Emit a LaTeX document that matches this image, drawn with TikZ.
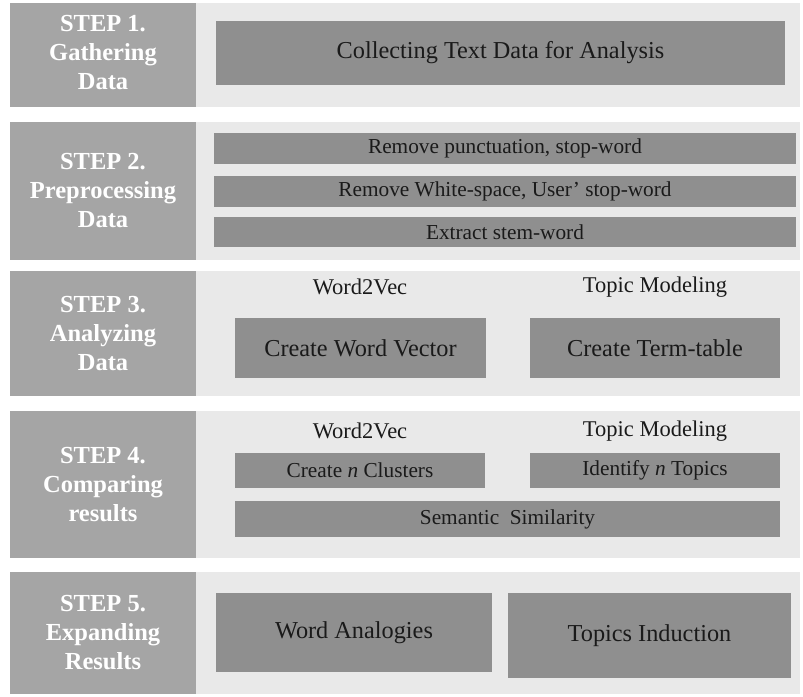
\documentclass[tikz,border=0pt]{standalone}
\usepackage{fontspec}
\setmainfont{Liberation Serif}
\usetikzlibrary{fit}
\definecolor{stepgray}{HTML}{A5A5A5}
\definecolor{panelgray}{HTML}{E9E9E9}
\definecolor{barfill}{HTML}{8F8F8F}
\definecolor{ink}{HTML}{1A1A1A}
\tikzset{
  stepbox/.style={fill=stepgray, draw=none, inner sep=0pt},
  steptext/.style={text=white, inner sep=0pt, align=center,
    font=\bfseries\fontsize{24.5}{29}\selectfont},
  panel/.style={fill=panelgray, draw=none, inner sep=0pt},
  bar/.style={fill=barfill, draw=none, inner sep=0pt},
  bigtext/.style={text=ink, inner sep=0pt, font=\fontsize{24.3}{28}\selectfont},
  midtext/.style={text=ink, inner sep=0pt, font=\fontsize{21.3}{24}\selectfont},
  smalltext/.style={text=ink, inner sep=0pt, font=\fontsize{21.3}{24}\selectfont},
  lbl/.style={text=ink, inner sep=0pt, font=\fontsize{22.5}{26}\selectfont},
}
\begin{document}
\begin{tikzpicture}[x=1pt, y=-1pt]
  % page area
  \fill[white] (0,0) rectangle (803,696);
  \useasboundingbox (0,0) rectangle (803,696);

  % ---- Step 1 ----
  \node[panel, fit={(196,3) (800,107)}] (p1) {};
  \node[stepbox, fit={(10,3) (196,107)}] (s1) {};
  \node[steptext] (t1) at ([yshift=2pt]s1.center) {STEP 1.\\Gathering\\Data};
  \node[bar, fit={(216,21) (785,85)}] (b1) {};
  \node[bigtext] (t11) at (b1.center) {Collecting Text Data for Analysis};

  % ---- Step 2 ----
  \node[panel, fit={(196,122) (800,260)}] (p2) {};
  \node[stepbox, fit={(10,122) (196,260)}] (s2) {};
  \node[steptext] (t2) at (s2.center) {STEP 2.\\Preprocessing\\Data};
  \node[bar, fit={(214,133) (796,164)}] (b21) {};
  \node[bar, fit={(214,176) (796,207)}] (b22) {};
  \node[bar, fit={(214,217) (796,247)}] (b23) {};
  \node[midtext] (t21) at (b21.center) {Remove punctuation, stop-word};
  \node[midtext] (t22) at (b22.center) {Remove White-space, User' stop-word};
  \node[midtext] (t23) at (b23.center) {Extract stem-word};

  % ---- Step 3 ----
  \node[panel, fit={(196,271) (800,396)}] (p3) {};
  \node[stepbox, fit={(10,271) (196,396)}] (s3) {};
  \node[steptext] (t3) at (s3.center) {STEP 3.\\Analyzing\\Data};
  \node[lbl] (l31) at (360,287) {Word2Vec};
  \node[lbl] (l32) at (655,287) {Topic Modeling};
  \node[bar, fit={(235,318) (486,378)}] (b31) {};
  \node[bar, fit={(530,318) (780,378)}] (b32) {};
  \node[bigtext] (t31) at (b31.center) {Create Word Vector};
  \node[bigtext] (t32) at (b32.center) {Create Term-table};

  % ---- Step 4 ----
  \node[panel, fit={(196,411) (800,558)}] (p4) {};
  \node[stepbox, fit={(10,411) (196,558)}] (s4) {};
  \node[steptext] (t4) at (s4.center) {STEP 4.\\Comparing\\results};
  \node[lbl] (l41) at (360,431) {Word2Vec};
  \node[lbl] (l42) at (655,431) {Topic Modeling};
  \node[bar, fit={(235,453) (485,488)}] (b41) {};
  \node[bar, fit={(530,453) (780,488)}] (b42) {};
  \node[bar, fit={(235,501) (780,537)}] (b43) {};
  \node[smalltext] (t41) at (b41.center) {Create \textit{n} Clusters};
  \node[smalltext] (t42) at (b42.center) {Identify \textit{n} Topics};
  \node[smalltext] (t43) at (b43.center) {Semantic\ \ Similarity};

  % ---- Step 5 ----
  \node[panel, fit={(196,572) (800,694)}] (p5) {};
  \node[stepbox, fit={(10,572) (196,694)}] (s5) {};
  \node[steptext] (t5) at (s5.center) {STEP 5.\\Expanding\\Results};
  \node[bar, fit={(216,593) (492,672)}] (b51) {};
  \node[bar, fit={(508,593) (791,678)}] (b52) {};
  \node[bigtext] (t51) at (b51.center) {Word Analogies};
  \node[bigtext] (t52) at (b52.center) {Topics Induction};
\end{tikzpicture}
\end{document}
